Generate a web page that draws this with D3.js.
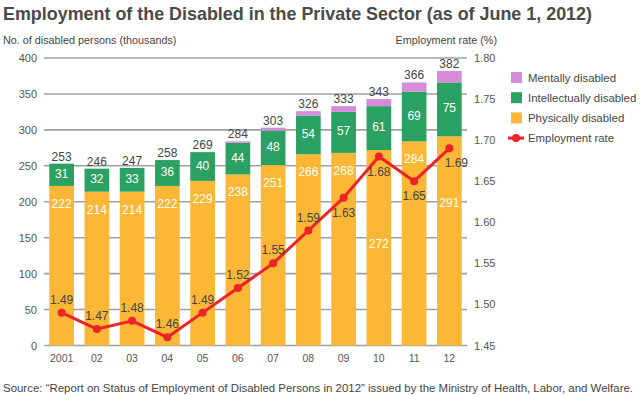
<!DOCTYPE html>
<html><head><meta charset="utf-8">
<script src="https://cdn.jsdelivr.net/npm/d3@7"></script>
<style>body{margin:0;background:#fff}svg{display:block;font-family:"Liberation Sans",Arial,sans-serif}</style>
</head><body><svg id="c" width="640" height="395"></svg>
<script>
const years = ["2001","02","03","04","05","06","07","08","09","10","11","12"];
const physical = [222,214,214,222,229,238,251,266,268,272,284,291];
const intellectual = [31,32,33,36,40,44,48,54,57,61,69,75];
const mental = [0,0,0,0,0,2,4,6,8,10,13,16];
const totals = [253,246,247,258,269,284,303,326,333,343,366,382];
const rate = [1.49,1.47,1.48,1.46,1.49,1.52,1.55,1.59,1.63,1.68,1.65,1.69];
const leftTicks = [0,50,100,150,200,250,300,350,400];
const rightTicks = [1.45,1.50,1.55,1.60,1.65,1.70,1.75,1.80];
const seriesNames = ["Mentally disabled","Intellectually disabled","Physically disabled","Employment rate"];

const C = {phys:"#FBB735", intel:"#2BA063", ment:"#D48BDA", red:"#EE2229", grid:"#a0a0a0", text:"#444"};
const svg = d3.select("#c");
const x = d3.scaleBand().domain(years).range([44,467]).paddingInner(0.3).paddingOuter(0.15);
const y = d3.scaleLinear().domain([0,400]).range([345.5,58]);
const yr = d3.scaleLinear().domain([1.45,1.80]).range([345.5,58]);

// title
svg.append("text").attr("x",3).attr("y",19.5).attr("font-size",18.5).attr("font-weight","bold")
  .attr("fill","#4a4a4a").attr("textLength",589).attr("lengthAdjust","spacingAndGlyphs")
  .text("Employment of the Disabled in the Private Sector (as of June 1, 2012)");
svg.append("text").attr("x",3).attr("y",44.3).attr("font-size",10.8).attr("fill",C.text)
  .text("No. of disabled persons (thousands)");
svg.append("text").attr("x",497).attr("y",44.3).attr("font-size",10.8).attr("fill",C.text)
  .attr("text-anchor","end").text("Employment rate (%)");

// grid
svg.append("g").selectAll("line").data(leftTicks).join("line")
  .attr("x1",44).attr("x2",467).attr("y1",d=>y(d)).attr("y2",d=>y(d))
  .attr("stroke",C.grid).attr("stroke-width",1.6);

// axes
const gl = svg.append("g").attr("transform","translate(44,0)")
  .call(d3.axisLeft(y).tickValues(leftTicks).tickSize(0).tickPadding(7));
gl.select(".domain").remove();
gl.selectAll("text").attr("font-size",11).attr("fill","#555").attr("font-family","Liberation Sans, Arial");
const gr = svg.append("g").attr("transform","translate(467,0)")
  .call(d3.axisRight(yr).tickValues(rightTicks).tickFormat(d3.format(".2f")).tickSize(0).tickPadding(7));
gr.select(".domain").remove();
gr.selectAll("text").attr("font-size",11).attr("fill","#555").attr("font-family","Liberation Sans, Arial");
const gx = svg.append("g").attr("transform","translate(0,345.5)")
  .call(d3.axisBottom(x).tickSize(0).tickPadding(9));
gx.select(".domain").remove();
gx.selectAll("text").attr("font-size",10.5).attr("fill","#555").attr("font-family","Liberation Sans, Arial");

// stacked bars
const rows = years.map((yv,i)=>({year:yv, phys:physical[i], intel:intellectual[i], ment:mental[i]}));
const stack = d3.stack().keys(["phys","intel","ment"])(rows);
const colors = {phys:C.phys, intel:C.intel, ment:C.ment};
svg.append("g").selectAll("g").data(stack).join("g").attr("fill",d=>colors[d.key])
  .selectAll("rect").data(d=>d).join("rect")
  .attr("x",d=>x(d.data.year)).attr("width",x.bandwidth())
  .attr("y",d=>y(d[1])).attr("height",d=>y(d[0])-y(d[1]));

// total labels
svg.append("g").selectAll("text").data(years).join("text")
  .attr("x",d=>x(d)+x.bandwidth()/2).attr("y",(d,i)=>y(totals[i])-3)
  .attr("text-anchor","middle").attr("font-size",12).attr("fill","#444").text((d,i)=>totals[i]);

// intellectual labels
svg.append("g").selectAll("text").data(years).join("text")
  .attr("x",d=>x(d)+x.bandwidth()/2).attr("y",(d,i)=>y(physical[i]+intellectual[i]/2)+3)
  .attr("text-anchor","middle").attr("font-size",12).attr("fill","#fff").text((d,i)=>intellectual[i]);

// rate label positions
const rateLabelY = rate.map(r=> r>=1.6 ? yr(r)+15 : yr(r)-13);
// physical labels, moved down if colliding with rate label
svg.append("g").selectAll("text").data(years).join("text")
  .attr("x",d=>x(d)+x.bandwidth()/2)
  .attr("y",(d,i)=>{
    let c = y(physical[i])+18;
    if (Math.abs(c-rateLabelY[i])<16) c = rateLabelY[i]+ (rate[i]>=1.685?40:72);
    return c+4;
  })
  .attr("text-anchor","middle").attr("font-size",12).attr("fill","#fff").text((d,i)=>physical[i]);

// rate line
const cx = d=>x(d)+x.bandwidth()/2;
svg.append("path").datum(years).attr("fill","none").attr("stroke",C.red).attr("stroke-width",3)
  .attr("stroke-linejoin","round")
  .attr("d",d3.line().x(cx).y((d,i)=>yr(rate[i])));
svg.append("g").selectAll("circle").data(years).join("circle")
  .attr("cx",cx).attr("cy",(d,i)=>yr(rate[i])).attr("r",4).attr("fill",C.red);
svg.append("g").selectAll("text").data(years).join("text")
  .attr("x",(d,i)=>cx(d)+(i===years.length-1?7:0)).attr("y",(d,i)=>rateLabelY[i]+4)
  .attr("text-anchor","middle").attr("font-size",12).attr("fill","#444").text((d,i)=>rate[i].toFixed(2));

// legend
const lg = svg.append("g");
const lcols = [C.ment,C.intel,C.phys];
seriesNames.forEach((n,i)=>{
  const cy = 77.5+i*20.2;
  if (i<3) lg.append("rect").attr("x",511).attr("y",cy-5.5).attr("width",11).attr("height",11).attr("fill",lcols[i]);
  else {
    lg.append("line").attr("x1",508).attr("x2",524).attr("y1",cy).attr("y2",cy).attr("stroke",C.red).attr("stroke-width",3);
    lg.append("circle").attr("cx",516).attr("cy",cy).attr("r",4).attr("fill",C.red);
  }
  lg.append("text").attr("x",528).attr("y",cy+4).attr("font-size",11.4).attr("fill",C.text).text(n);
});

// source
svg.append("text").attr("x",3).attr("y",391.5).attr("font-size",10.5).attr("fill","#444")
  .attr("textLength",630).attr("lengthAdjust","spacingAndGlyphs")
  .text("Source: \u201cReport on Status of Employment of Disabled Persons in 2012\u201d issued by the Ministry of Health, Labor, and Welfare.");
</script></body></html>
